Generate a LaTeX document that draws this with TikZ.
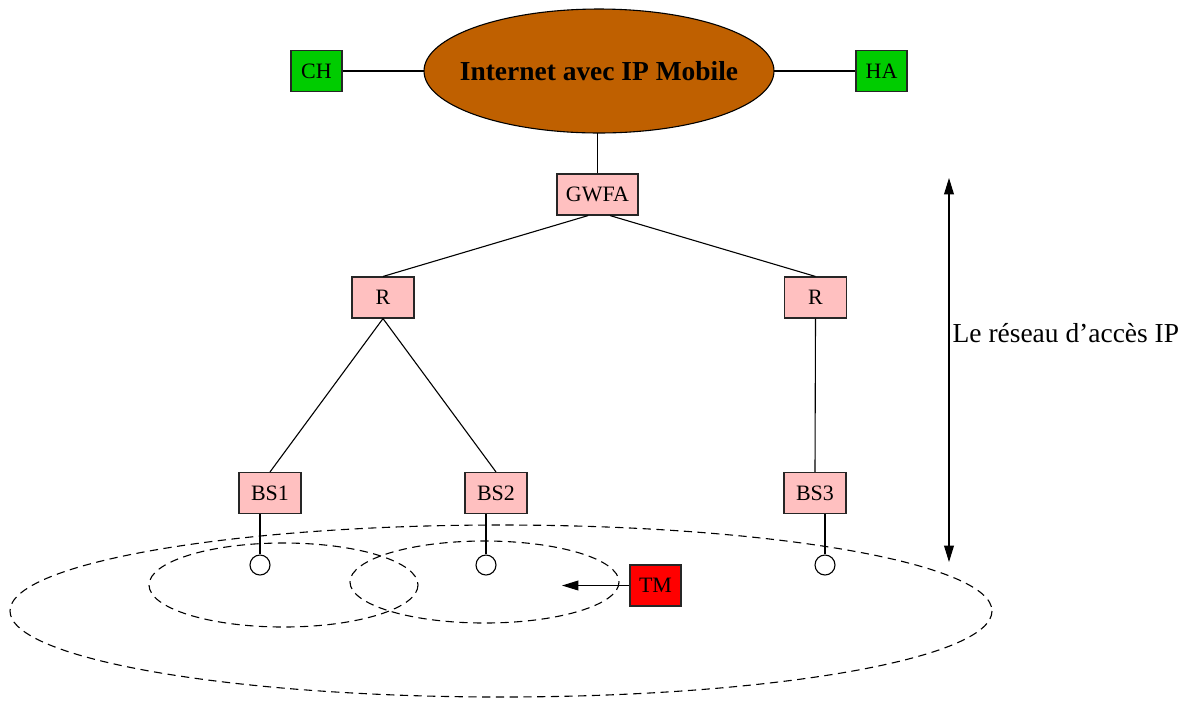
\documentclass[tikz,border=0pt]{standalone}
\usepackage{fontspec}
\setmainfont{Liberation Serif}
\usetikzlibrary{arrows.meta, shapes.geometric, positioning}
\definecolor{netbrown}{RGB}{191,96,0}
\definecolor{hostgreen}{RGB}{0,204,0}
\definecolor{accesspink}{RGB}{255,192,192}
\definecolor{termred}{RGB}{255,0,0}

\begin{document}
\begin{tikzpicture}[x=0.0128cm, y=-0.0128cm, >={Triangle[length=6pt, width=3.6pt]},
    box/.style={draw=black!85, rectangle, minimum height=0.525cm, inner sep=1pt, font=\fontsize{8}{9.6}\selectfont},
    host/.style={box, fill=hostgreen, minimum width=0.653cm},
    access/.style={box, fill=accesspink, minimum width=0.794cm},
    antenna/.style={draw, circle, fill=white, minimum size=0.256cm, inner sep=0pt},
    cell/.style={dashed, dash pattern=on 3pt off 2pt}]
    
    \useasboundingbox (0,0) rectangle (1190,700);
    
    \draw[cell] (501,611) ellipse [x radius=491, y radius=86];
    \draw[cell] (283.5,585) ellipse [x radius=134.5, y radius=42];
    \draw[cell] (484.5,582) ellipse [x radius=134.5, y radius=41];
    
    \node[ellipse, draw, fill=netbrown, minimum width=4.48cm, minimum height=1.587cm, inner sep=0pt, outer sep=0pt] (net) at (599,71) {};
    \node[font=\bfseries] (nettext) at (net) {Internet avec IP Mobile};
    \node[host] (ch) at (316.5,71) {CH};
    \node[host] (ha) at (881.5,71) {HA};
    \node[access, minimum width=1.037cm] (gwfa) at (597.5,194.5) {GWFA};
    \node[access] (r1) at (383,297.5) {R};
    \node[access] (r2) at (815.5,297.5) {R};
    \node[access] (bs1) at (270,493) {BS1};
    \node[access] (bs2) at (496,493) {BS2};
    \node[access] (bs3) at (815,493) {BS3};
    \node[antenna] (ant1) at (260,565) {};
    \node[antenna] (ant2) at (486,565) {};
    \node[antenna] (ant3) at (825,565) {};
    \node[box, fill=termred, minimum width=0.653cm] (tm) at (655.5,585.5) {TM};
    \coordinate (move) at (562,585.5);
    \coordinate (span top) at (949,178);
    \coordinate (span bot) at (949,562);
    \node[anchor=west] (reseau) at (943,333) {Le réseau d'accès IP};
    
    \draw (ch) -- (net);
    \draw (net) -- (ha);
    \draw (gwfa.north) -- (gwfa.north |- net.south);
    \draw ([xshift=-0.12cm]gwfa.south) -- (r1.north);
    \draw ([xshift=0.16cm]gwfa.south) -- (r2.north);
    \draw (r1.south) -- (bs1.north);
    \draw (r1.south) -- (bs2.north);
    \draw (r2.south) -- (bs3.north);
    \draw (ant1.north) -- (ant1 |- bs1.south);
    \draw (ant2.north) -- (ant2 |- bs2.south);
    \draw (ant3.north) -- (ant3 |- bs3.south);
    
    \draw[->] (tm.west) -- (move);
    \draw[<->] (span top) -- (span bot);
\end{tikzpicture}
\end{document}
